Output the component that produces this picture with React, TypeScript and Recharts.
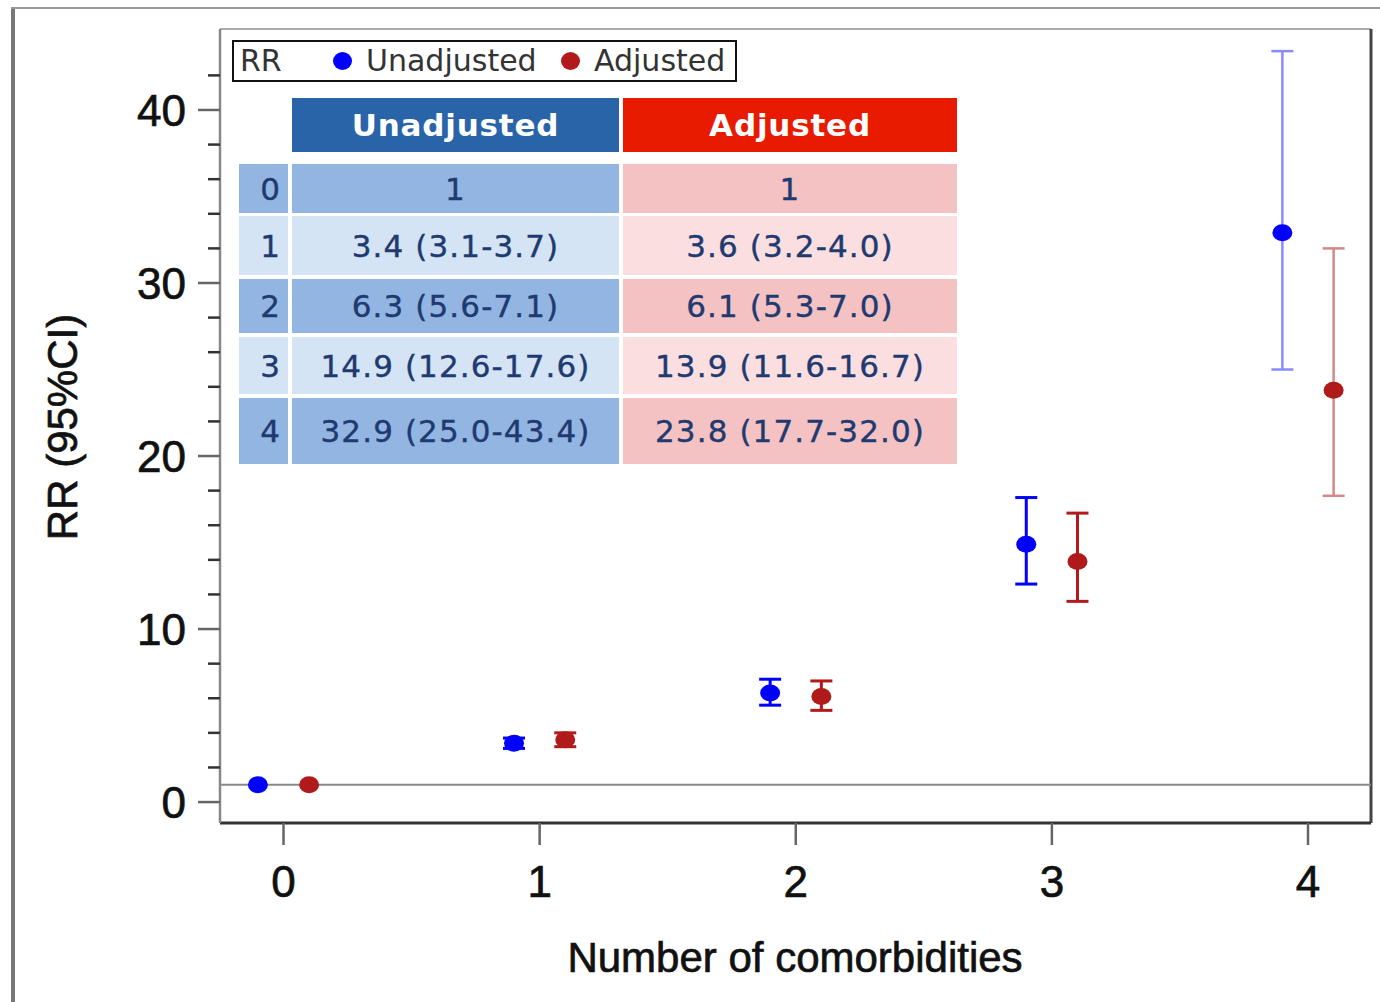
import React from 'react';
import { ComposedChart, Scatter, ErrorBar, XAxis, YAxis, ReferenceLine, Label } from 'recharts';

// comorbidity count on the x axis
const categories = [0, 1, 2, 3, 4];

// rate ratios with 95% CI
const unadjRR = [1, 3.4, 6.3, 14.9, 32.9];
const unadjLow = [1, 3.1, 5.6, 12.6, 25.0];
const unadjHigh = [1, 3.7, 7.1, 17.6, 43.4];

const adjRR = [1, 3.6, 6.1, 13.9, 23.8];
const adjLow = [1, 3.2, 5.3, 11.6, 17.7];
const adjHigh = [1, 4.0, 7.0, 16.7, 32.0];

const xTicks = [0, 1, 2, 3, 4];
const yTicks = [0, 2, 4, 6, 8, 10, 12, 14, 16, 18, 20, 22, 24, 26, 28, 30, 32, 34, 36, 38, 40, 42];

const X_DOMAIN: [number, number] = [-0.248, 4.246];
const Y_DOMAIN: [number, number] = [-1.21, 44.68];

const BLUE = '#0000ff';
const RED = '#b01a1a';

const AXIS_FONT = '"Liberation Sans", Arial, sans-serif';
const TABLE_FONT = '"DejaVu Sans", Verdana, sans-serif';

const buildRows = (rr: number[], lo: number[], hi: number[], shift: number) =>
  categories.map((c, i) => ({
    cat: c,
    x: c + shift,
    y: rr[i],
    err: [rr[i] - lo[i], hi[i] - rr[i]],
  }));

const unadjRows = buildRows(unadjRR, unadjLow, unadjHigh, -0.1);
const adjRows = buildRows(adjRR, adjLow, adjHigh, 0.1);

const fmt = (rr: number[], lo: number[], hi: number[], i: number) =>
  lo[i] === hi[i] ? String(rr[i]) : `${rr[i].toFixed(1)} (${lo[i].toFixed(1)}-${hi[i].toFixed(1)})`;

// axis text is a little heavier than regular in the figure
const axisText = { fontSize: 44, fill: '#111', stroke: '#111', strokeWidth: 0.7, fontFamily: AXIS_FONT };

const YTick = (props: any) => {
  const { x, y, payload } = props;
  const major = payload.value % 10 === 0;
  return (
    <g>
      <line x1={x - (major ? 22 : 12)} x2={x} y1={y} y2={y} stroke={major ? '#666' : '#333'} strokeWidth={2.5} />
      {major && (
        <text x={x - 34} y={y + 16} textAnchor="end" {...axisText}>
          {payload.value}
        </text>
      )}
    </g>
  );
};

const XTick = (props: any) => {
  const { x, y, payload } = props;
  return (
    <g>
      <line x1={x} x2={x} y1={y} y2={y + 22} stroke="#666" strokeWidth={2.5} />
      <text x={x} y={y + 74} textAnchor="middle" {...axisText}>
        {payload.value}
      </text>
    </g>
  );
};

const dot = (color: string) => (p: any) => <ellipse cx={p.cx} cy={p.cy} rx={10} ry={8.5} fill={color} />;

// table layout (page pixels)
const rowTops = [164, 216, 279, 337, 398];
const rowBottoms = [213, 275, 333, 394, 464];
const colIdx = [239, 288];
const colUnadj = [292, 619];
const colAdj = [623, 957];

const box = (left: number, top: number, width: number, height: number, bg: string): React.CSSProperties => ({
  position: 'absolute', left, top, width, height, background: bg,
  display: 'flex', alignItems: 'center', justifyContent: 'center', boxSizing: 'border-box',
});

function ResultTable() {
  const cellText: React.CSSProperties = { fontFamily: TABLE_FONT, fontSize: 31, letterSpacing: 1.1, color: '#1f3a70', WebkitTextStroke: '0.4px #1f3a70' };
  const headText: React.CSSProperties = { fontFamily: TABLE_FONT, fontWeight: 'bold', fontSize: 31, letterSpacing: 0.8, color: '#fff' };
  return (
    <>
      <div style={box(colUnadj[0], 98, colUnadj[1] - colUnadj[0], 54, '#2a64a8')}>
        <span style={headText}>Unadjusted</span>
      </div>
      <div style={box(colAdj[0], 98, colAdj[1] - colAdj[0], 54, '#e81a00')}>
        <span style={headText}>Adjusted</span>
      </div>
      {categories.map((c, i) => {
        const dark = i % 2 === 0;
        const top = rowTops[i];
        const h = rowBottoms[i] - top;
        return (
          <React.Fragment key={c}>
            <div style={{ ...box(colIdx[0], top, colIdx[1] - colIdx[0], h, dark ? '#93b5e1' : '#d4e4f4'), justifyContent: 'flex-end', paddingRight: 7 }}>
              <span style={cellText}>{c}</span>
            </div>
            <div style={box(colUnadj[0], top, colUnadj[1] - colUnadj[0], h, dark ? '#93b5e1' : '#d4e4f4')}>
              <span style={cellText}>{fmt(unadjRR, unadjLow, unadjHigh, i)}</span>
            </div>
            <div style={box(colAdj[0], top, colAdj[1] - colAdj[0], h, dark ? '#f4c2c2' : '#fbdfe0')}>
              <span style={cellText}>{fmt(adjRR, adjLow, adjHigh, i)}</span>
            </div>
          </React.Fragment>
        );
      })}
    </>
  );
}

function LegendBox() {
  const txt: React.CSSProperties = { position: 'absolute', top: 0, height: 38, lineHeight: '38px', fontFamily: TABLE_FONT, fontSize: 30, color: '#333' };
  const circle = (left: number, color: string): React.CSSProperties => ({
    position: 'absolute', left, top: 10, width: 19, height: 18, borderRadius: '50%', background: color,
  });
  return (
    <div style={{ position: 'absolute', left: 232, top: 40, width: 505, height: 42, border: '2px solid #111', boxSizing: 'border-box', background: '#fff' }}>
      <span style={{ ...txt, left: 6 }}>RR</span>
      <div style={circle(99, BLUE)} />
      <span style={{ ...txt, left: 132 }}>Unadjusted</span>
      <div style={circle(327, RED)} />
      <span style={{ ...txt, left: 360 }}>Adjusted</span>
    </div>
  );
}

export default function App() {
  return (
    <div style={{ position: 'absolute', left: 0, top: 0, width: 1380, height: 1002, background: '#fff', overflow: 'hidden' }}>
      {/* outer frame */}
      <div style={{ position: 'absolute', left: 11, top: 7, width: 4, height: 995, background: '#777' }} />
      <div style={{ position: 'absolute', left: 11, top: 7, width: 1369, height: 2, background: '#999' }} />

      <ComposedChart width={1380} height={1002} margin={{ top: 29, right: 9, bottom: 119, left: 140 }}>
        <XAxis
          type="number"
          dataKey="x"
          domain={X_DOMAIN}
          allowDataOverflow
          ticks={xTicks}
          tick={<XTick />}
          tickLine={false}
          tickSize={0}
          tickMargin={0}
          height={60}
          axisLine={{ stroke: '#333', strokeWidth: 3 }}
        >
          <Label
            content={() => (
              <text x={795} y={972} textAnchor="middle" {...axisText} fontSize={42}>
                Number of comorbidities
              </text>
            )}
          />
        </XAxis>
        <YAxis
          type="number"
          dataKey="y"
          domain={Y_DOMAIN}
          allowDataOverflow
          ticks={yTicks}
          interval={0}
          tick={<YTick />}
          tickLine={false}
          tickSize={0}
          tickMargin={0}
          width={80}
          axisLine={{ stroke: '#888', strokeWidth: 2.5 }}
        >
          <Label
            content={() => (
              <text x={77} y={427} transform="rotate(-90 77 427)" textAnchor="middle" {...axisText} fontSize={42}>
                RR (95%CI)
              </text>
            )}
          />
        </YAxis>

        {/* plot frame top and right */}
        <ReferenceLine y={Y_DOMAIN[1]} stroke="#aaa" strokeWidth={2} />
        <ReferenceLine x={X_DOMAIN[1]} stroke="#444" strokeWidth={3} />
        {/* RR = 1 */}
        <ReferenceLine y={1} stroke="#888" strokeWidth={2} />

        {/* Unadjusted */}
        <Scatter data={unadjRows.filter((r) => r.cat === 0)} shape={dot(BLUE)} isAnimationActive={false} />
        <Scatter data={unadjRows.filter((r) => r.cat > 0 && r.cat < 4)} shape={dot(BLUE)} isAnimationActive={false}>
          <ErrorBar dataKey="err" direction="y" width={11} stroke={BLUE} strokeWidth={3} isAnimationActive={false} />
        </Scatter>
        <Scatter data={unadjRows.filter((r) => r.cat === 4)} shape={dot(BLUE)} isAnimationActive={false}>
          <ErrorBar dataKey="err" direction="y" width={11} stroke="#8a8aff" strokeWidth={2.5} isAnimationActive={false} />
        </Scatter>

        {/* Adjusted */}
        <Scatter data={adjRows.filter((r) => r.cat === 0)} shape={dot(RED)} isAnimationActive={false} />
        <Scatter data={adjRows.filter((r) => r.cat > 0 && r.cat < 4)} shape={dot(RED)} isAnimationActive={false}>
          <ErrorBar dataKey="err" direction="y" width={11} stroke={RED} strokeWidth={3} isAnimationActive={false} />
        </Scatter>
        <Scatter data={adjRows.filter((r) => r.cat === 4)} shape={dot(RED)} isAnimationActive={false}>
          <ErrorBar dataKey="err" direction="y" width={11} stroke="#d48888" strokeWidth={2.5} isAnimationActive={false} />
        </Scatter>
      </ComposedChart>

      <LegendBox />
      <ResultTable />
    </div>
  );
}
